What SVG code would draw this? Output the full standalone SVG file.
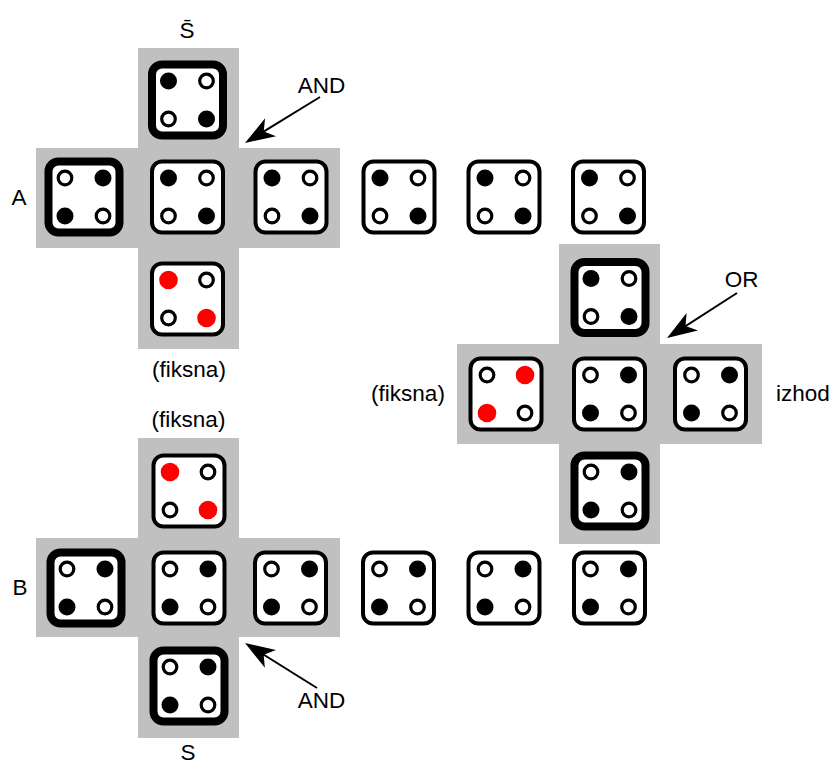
<svg xmlns="http://www.w3.org/2000/svg" width="836" height="769" viewBox="0 0 836 769">
<style>
.bg{fill:#c0c0c0;stroke:none}
.tile{fill:#fff;stroke:#000;stroke-width:4}
.thick{stroke-width:8}
.b{fill:#000}
.o{fill:#fff;stroke:#000;stroke-width:3.2}
.r{fill:#f00}
.lbl{font-family:"Liberation Sans",Arial,sans-serif;font-size:22.5px;fill:#000;text-anchor:middle}
.arr{stroke:#000;stroke-width:2;fill:none;marker-end:url(#head)}
</style>
<defs>
<marker id="head" markerUnits="userSpaceOnUse" viewBox="-28 -12 33 24" markerWidth="33" markerHeight="24" refX="0" refY="0" orient="auto">
<path d="M4,0 L-26,-10.5 L-18,0 L-26,10.5 Z" fill="#000"/>
</marker>
<g id="P1"><circle class="b" cx="-19" cy="-19" r="8.5"/><circle class="o" cx="19" cy="-19" r="6.8"/><circle class="o" cx="-19" cy="19" r="6.8"/><circle class="b" cx="19" cy="19" r="8.5"/></g>
<g id="P2"><circle class="o" cx="-19" cy="-19" r="6.8"/><circle class="b" cx="19" cy="-19" r="8.5"/><circle class="b" cx="-19" cy="19" r="8.5"/><circle class="o" cx="19" cy="19" r="6.8"/></g>
<g id="R1"><circle class="r" cx="-19" cy="-19" r="9.3"/><circle class="o" cx="19" cy="-19" r="6.8"/><circle class="o" cx="-19" cy="19" r="6.8"/><circle class="r" cx="19" cy="19" r="9.3"/></g>
<g id="R2"><circle class="o" cx="-19" cy="-19" r="6.8"/><circle class="r" cx="19" cy="-19" r="9.3"/><circle class="r" cx="-19" cy="19" r="9.3"/><circle class="o" cx="19" cy="19" r="6.8"/></g>
</defs>

<g id="cross-top">
<rect class="bg" x="36" y="148" width="304" height="100"/>
<rect class="bg" x="138" y="48" width="101" height="301"/>
</g>
<g id="cross-bottom">
<rect class="bg" x="36" y="538" width="304" height="99"/>
<rect class="bg" x="138" y="438" width="101" height="300"/>
</g>
<g id="cross-right">
<rect class="bg" x="457" y="344" width="305" height="100"/>
<rect class="bg" x="559" y="244" width="101" height="300"/>
</g>

<!-- top cross -->
<g id="t-sbar" transform="translate(187.5,100)"><rect class="tile thick" x="-35.5" y="-35.5" width="71" height="71" rx="10"/><use href="#P1"/></g>
<g id="t-a" transform="translate(84,197)"><rect class="tile thick" x="-35.5" y="-35.5" width="71" height="71" rx="10"/><use href="#P2"/></g>
<g id="t-r2" transform="translate(187.5,197)"><rect class="tile" x="-35.5" y="-35.5" width="71" height="71" rx="10"/><use href="#P1"/></g>
<g id="t-r3" transform="translate(291,197)"><rect class="tile" x="-35.5" y="-35.5" width="71" height="71" rx="10"/><use href="#P1"/></g>
<g id="t-r4" transform="translate(399,197)"><rect class="tile" x="-35.5" y="-35.5" width="71" height="71" rx="10"/><use href="#P1"/></g>
<g id="t-r5" transform="translate(504,197)"><rect class="tile" x="-35.5" y="-35.5" width="71" height="71" rx="10"/><use href="#P1"/></g>
<g id="t-r6" transform="translate(608.5,197)"><rect class="tile" x="-35.5" y="-35.5" width="71" height="71" rx="10"/><use href="#P1"/></g>
<g id="t-fix" transform="translate(187.5,299)"><rect class="tile" x="-35.5" y="-35.5" width="71" height="71" rx="10"/><use href="#R1"/></g>

<!-- right cross -->
<g id="m-top" transform="translate(610,297.5)"><rect class="tile thick" x="-35.5" y="-35.5" width="71" height="71" rx="10"/><use href="#P1"/></g>
<g id="m-fix" transform="translate(506,394)"><rect class="tile" x="-35.5" y="-35.5" width="71" height="71" rx="10"/><use href="#R2"/></g>
<g id="m-mid" transform="translate(609.5,394)"><rect class="tile" x="-35.5" y="-35.5" width="71" height="71" rx="10"/><use href="#P2"/></g>
<g id="m-out" transform="translate(710.5,394)"><rect class="tile" x="-35.5" y="-35.5" width="71" height="71" rx="10"/><use href="#P2"/></g>
<g id="m-bot" transform="translate(610,491)"><rect class="tile thick" x="-35.5" y="-35.5" width="71" height="71" rx="10"/><use href="#P2"/></g>

<!-- bottom cross -->
<g id="b-fix" transform="translate(189,491)"><rect class="tile" x="-35.5" y="-35.5" width="71" height="71" rx="10"/><use href="#R1"/></g>
<g id="b-b" transform="translate(86,588)"><rect class="tile thick" x="-35.5" y="-35.5" width="71" height="71" rx="10"/><use href="#P2"/></g>
<g id="b-r2" transform="translate(189,588)"><rect class="tile" x="-35.5" y="-35.5" width="71" height="71" rx="10"/><use href="#P2"/></g>
<g id="b-r3" transform="translate(290.5,588)"><rect class="tile" x="-35.5" y="-35.5" width="71" height="71" rx="10"/><use href="#P2"/></g>
<g id="b-r4" transform="translate(398.5,588)"><rect class="tile" x="-35.5" y="-35.5" width="71" height="71" rx="10"/><use href="#P2"/></g>
<g id="b-r5" transform="translate(504,588)"><rect class="tile" x="-35.5" y="-35.5" width="71" height="71" rx="10"/><use href="#P2"/></g>
<g id="b-r6" transform="translate(609.5,588)"><rect class="tile" x="-35.5" y="-35.5" width="71" height="71" rx="10"/><use href="#P2"/></g>
<g id="b-s" transform="translate(189,686)"><rect class="tile thick" x="-35.5" y="-35.5" width="71" height="71" rx="10"/><use href="#P2"/></g>

<g id="connectors">
<line class="arr" x1="320" y1="97" x2="248.4" y2="140.9"/>
<line class="arr" x1="737" y1="293" x2="670.4" y2="335.8"/>
<line class="arr" x1="317" y1="688" x2="248.4" y2="645.1"/>
</g>

<g id="labels">
<text class="lbl" x="187" y="38">S̄</text>
<text class="lbl" x="321.5" y="93">AND</text>
<text class="lbl" x="19" y="205">A</text>
<text class="lbl" x="189" y="377">(fiksna)</text>
<text class="lbl" x="188.5" y="427">(fiksna)</text>
<text class="lbl" x="20" y="595">B</text>
<text class="lbl" x="321.5" y="708">AND</text>
<text class="lbl" x="188" y="760">S</text>
<text class="lbl" x="741.5" y="287">OR</text>
<text class="lbl" x="408" y="401">(fiksna)</text>
<text class="lbl" x="803" y="401">izhod</text>
</g>
</svg>
